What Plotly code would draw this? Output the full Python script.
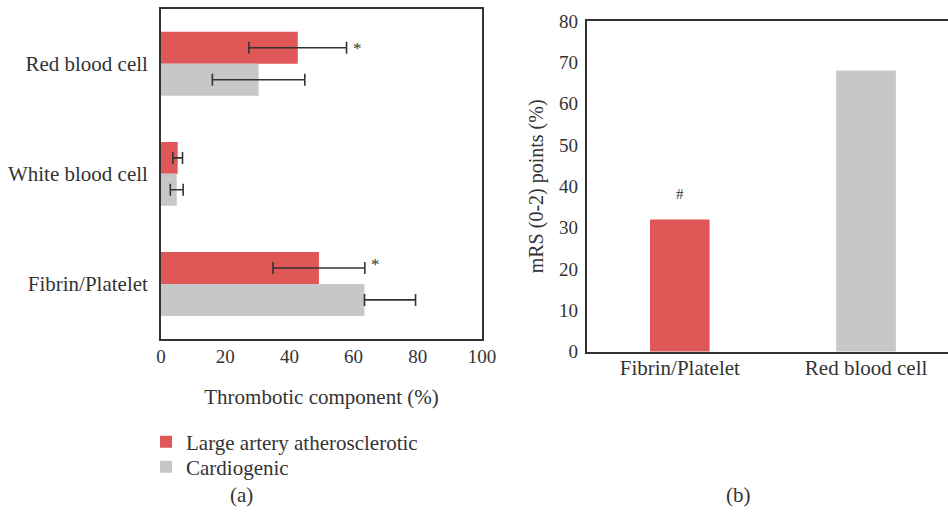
import plotly.graph_objects as go

# ---- data: panel (a) ----
components = ["Red blood cell", "White blood cell", "Fibrin/Platelet"]
laa_values = [42.6, 5.2, 49.2]
laa_err = [15.2, 1.5, 14.3]
cardio_values = [30.4, 4.9, 63.4]
cardio_err_plus = [14.4, 2.0, 15.9]
cardio_err_minus = [14.4, 2.0, 0.0]
series_names = ["Large artery atherosclerotic", "Cardiogenic"]
x_ticks_a = [0, 20, 40, 60, 80, 100]

# ---- data: panel (b) ----
b_categories = ["Fibrin/Platelet", "Red blood cell"]
b_values = [32, 68]
y_ticks_b = [0, 10, 20, 30, 40, 50, 60, 70, 80]

RED = "#DF5757"
GRAY = "#C6C7C9"
AX = "#333333"
FONT = "Liberation Serif"
FS = 21
NUM = 19

fig = go.Figure()

fig.add_trace(go.Bar(
    y=components, x=laa_values, orientation="h", name=series_names[0],
    marker=dict(color=RED, line=dict(width=0)),
    error_x=dict(type="data", array=laa_err, color=AX, thickness=1.6, width=6),
    xaxis="x", yaxis="y", showlegend=True, legend="legend",
))
fig.add_trace(go.Bar(
    y=components, x=cardio_values, orientation="h", name=series_names[1],
    marker=dict(color=GRAY, line=dict(width=0)),
    error_x=dict(type="data", symmetric=False, array=cardio_err_plus,
                 arrayminus=cardio_err_minus, color=AX, thickness=1.6, width=6),
    xaxis="x", yaxis="y", showlegend=True, legend="legend2",
))

fig.add_trace(go.Bar(
    x=b_categories, y=b_values, marker=dict(color=[RED, GRAY], line=dict(width=0)),
    xaxis="x2", yaxis="y2", showlegend=False, width=0.32,
))

annotations = [
    dict(x=laa_values[0] + laa_err[0], y=-0.143, xref="x", yref="y", text="*",
         showarrow=False, xshift=11, font=dict(family=FONT, size=17, color=AX)),
    dict(x=laa_values[2] + laa_err[2], y=2 - 0.18, xref="x", yref="y", text="*",
         showarrow=False, xshift=11, font=dict(family=FONT, size=17, color=AX)),
    dict(x=0, y=b_values[0], xref="x2", yref="y2", text="#", showarrow=False,
         yshift=25, font=dict(family=FONT, size=15, color=AX)),
    dict(x=241 / 948, y=1 - 495 / 519, xref="paper", yref="paper", text="(a)",
         xanchor="center", yanchor="middle",
         showarrow=False, font=dict(family=FONT, size=FS, color=AX)),
    dict(x=738 / 948, y=1 - 495 / 519, xref="paper", yref="paper", text="(b)",
         xanchor="center", yanchor="middle",
         showarrow=False, font=dict(family=FONT, size=FS, color=AX)),
]

legend_common = dict(xanchor="left", yanchor="middle",
                     font=dict(family=FONT, size=FS, color=AX),
                     bgcolor="rgba(0,0,0,0)", itemwidth=30)

fig.update_layout(
    width=948, height=519,
    margin=dict(l=0, r=0, t=0, b=0, autoexpand=False),
    paper_bgcolor="white", plot_bgcolor="white",
    font=dict(family=FONT, size=FS, color=AX),
    barmode="group", bargap=0.42, bargroupgap=0,
    xaxis=dict(domain=[161 / 948, 482 / 948], range=[0, 100], tickvals=x_ticks_a,
               showgrid=False, zeroline=False, showline=True, linecolor=AX,
               linewidth=1.8, mirror=True, ticks="", ticklabelstandoff=-1,
               tickfont=dict(size=NUM), automargin=False,
               title=dict(text="Thrombotic component (%)", standoff=24,
                          font=dict(size=FS)),
               anchor="y"),
    yaxis=dict(domain=[1 - 339 / 519, 1 - 8.7 / 519], type="category",
               categoryarray=components, range=[2.5, -0.5],
               showgrid=False, zeroline=False, showline=True, linecolor=AX,
               linewidth=1.8, mirror=True, ticks="", ticklabelstandoff=7,
               tickfont=dict(size=FS), automargin=False,
               anchor="x"),
    xaxis2=dict(domain=[586.7 / 948, 1.0], range=[-0.5, 1.44],
                showgrid=False, zeroline=False, showline=True, linecolor=AX,
                linewidth=1.8, mirror=True, ticks="", ticklabelstandoff=-4,
                tickfont=dict(size=FS), automargin=False,
                anchor="y2"),
    yaxis2=dict(domain=[1 - 351.7 / 519, 1 - 21 / 519], range=[0, 80],
                tickvals=y_ticks_b, showgrid=False, zeroline=False,
                showline=True, linecolor=AX, linewidth=1.8, ticks="",
                ticklabelstandoff=3, tickfont=dict(size=NUM), automargin=False,
                title=dict(text="mRS (0-2) points (%)", standoff=10,
                           font=dict(size=20)),
                anchor="x2"),
    legend=dict(x=146 / 948, y=1 - 442 / 519, **legend_common),
    legend2=dict(x=146 / 948, y=1 - 467 / 519, **legend_common),
    annotations=annotations,
)

fig.write_html("out.html")
